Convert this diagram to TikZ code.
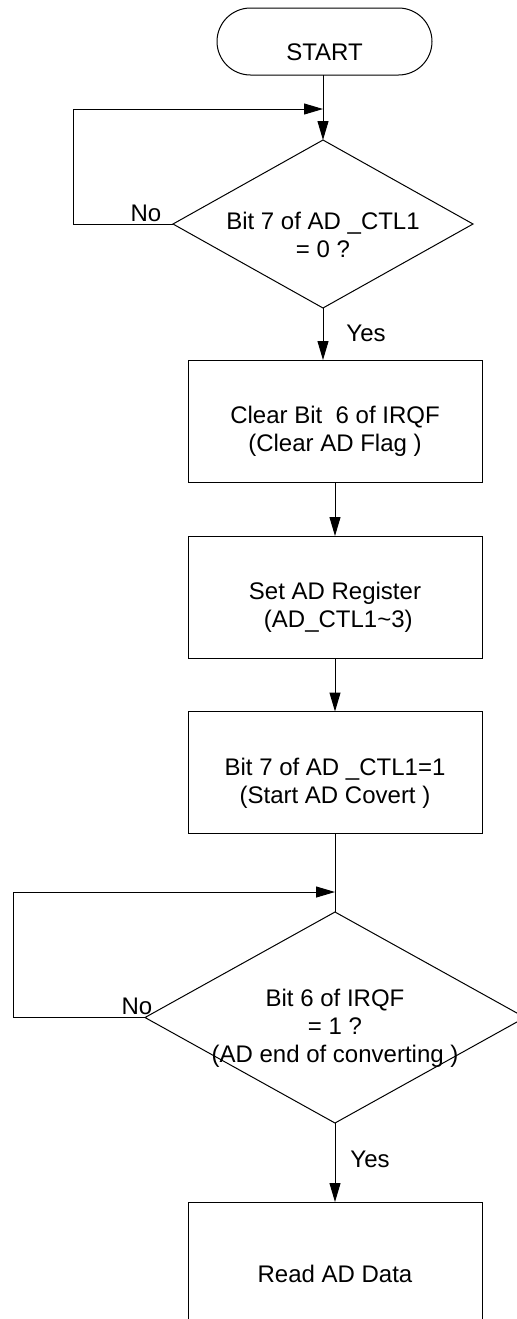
\documentclass[tikz,border=0pt]{standalone}
\usepackage{fontspec}
\setmainfont{Liberation Sans}
\usetikzlibrary{arrows.meta, positioning, shapes.geometric, shapes.misc}

\begin{document}
\begin{tikzpicture}[% styles used in flow chart
x = 0.5pt, y = -0.5pt,
         > = {Triangle[length=9.5pt, width=5.5pt]}, % defined in "arrows.meta
every path/.style = {line width=0.5pt},
term/.style = {rounded rectangle, draw,
              minimum width=107.5pt, minimum height=33.5pt,
              inner sep=0pt, outer sep=0pt},
process/.style = {rectangle, draw,
              minimum width=147pt, minimum height=61pt,
              inner sep=0pt, outer sep=0pt},
decision/.style args = {#1/#2}{diamond, draw,
              minimum width=#1, minimum height=#2,
              inner sep=0pt, outer sep=0pt},
txt/.style = {font=\fontsize{12}{14}\selectfont, align=center,
              inner sep=0pt, yshift=-5.25pt},
lbl/.style = {font=\fontsize{12}{14}\selectfont, inner sep=0pt}
                        ]
	\useasboundingbox (0,0) rectangle (517,1319);

	% shapes
	\node[term]                     (start) at (324.5,41.5) {};
	\node[decision=150pt/84pt]      (chk1)  at (323,224)    {};
	\node[process]                  (clr)   at (335,421)    {};
	\node[process]                  (set)   at (335,597)    {};
	\node[process]                  (conv)  at (335,772.5)  {};
	\node[decision=190pt/105.5pt]   (chk2)  at (335,1017.5) {};
	\node[process]                  (read)  at (335,1263)   {};

	% texts
	\node[txt] (tstart) at (start.center) {START};
	\node[txt] (tchk1)  at (chk1.center)  {Bit 7 of AD \_CTL1\\= 0 ?};
	\node[txt] (tclr)   at (clr.center)   {Clear Bit\ \ 6 of IRQF\\(Clear AD Flag )};
	\node[txt] (tset)   at (set.center)   {Set AD Register\\\ (AD\_CTL1\textasciitilde 3)};
	\node[txt] (tconv)  at (conv.center)  {Bit 7 of AD \_CTL1=1\\(Start AD Covert )};
	\node[txt] (tchk2)  at (chk2.center)  {Bit 6 of IRQF\\= 1 ?\\(AD end of converting )};
	\node[txt] (tread)  at (read.center)  {Read AD Data};

	% join points of the loops
	\coordinate (j1) at (323,109);
	\coordinate (j2) at (335,892);

	\draw [->] (start.south -| chk1.north) -- (chk1.north);
	\draw [->] (chk1.west) -- ++(-100,0) |- (j1);
	\node[lbl] (no1) at (146,213) {No};
	\draw [->] (chk1.south) -- (chk1.south |- clr.north);
	\node[lbl] (yes1) at (366,333) {Yes};

	\draw [->] (clr) -- (set);
	\draw [->] (set) -- (conv);
	\draw (conv) -- (chk2.north);

	\draw [->] (chk2.west) -- ++(-132,0) |- (j2);
	\node[lbl] (no2) at (137,1006) {No};
	\draw [->] (chk2.south) -- (read.north);
	\node[lbl] (yes2) at (370,1159) {Yes};
\end{tikzpicture}
\end{document}
